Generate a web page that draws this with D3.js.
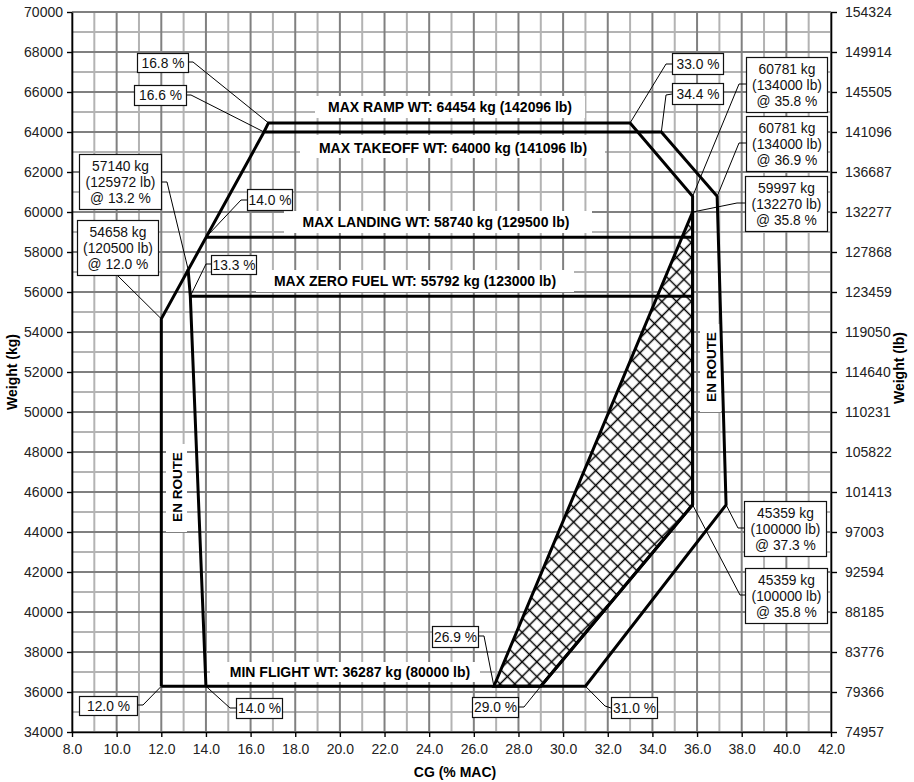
<!DOCTYPE html>
<html>
<head>
<meta charset="utf-8">
<script src="https://cdn.jsdelivr.net/npm/d3@7"></script>
<style>
  html, body { margin: 0; padding: 0; background: #fff; }
  svg { display: block; font-family: "Liberation Sans", Arial, sans-serif; }
</style>
</head>
<body>
<svg id="chart" width="914" height="782"></svg>
<script>
// ---------------- DATA ----------------
const cgTicks = [8, 10, 12, 14, 16, 18, 20, 22, 24, 26, 28, 30, 32, 34, 36, 38, 40, 42];
const kgTicks = [34000, 36000, 38000, 40000, 42000, 44000, 46000, 48000, 50000, 52000,
                 54000, 56000, 58000, 60000, 62000, 64000, 66000, 68000, 70000];
const lbTickLabels = ["74957", "79366", "83776", "88185", "92594", "97003", "101413", "105822",
                      "110231", "114640", "119050", "123459", "127868", "132277", "136687",
                      "141096", "145505", "149914", "154324"];

// envelope lines: [CG %MAC, weight kg]
const outerEnvelope = [[12.0, 36287], [12.0, 54658], [16.6, 64000], [34.4, 64000],
                       [36.9, 60781], [37.3, 45359], [31.0, 36287], [12.0, 36287]];
const rampLine = [[16.6, 64000], [16.8, 64454], [33.0, 64454], [35.8, 60781],
                  [35.8, 45359], [29.0, 36287]];
const landingLine = [[14.0, 58740], [35.8, 58740]];
const zeroFuelLine = [[13.3, 55792], [35.8, 55792]];
const fwdInnerLine = [[13.2, 57140], [13.3, 55792], [14.0, 36287]];
const hatchArea = [[26.9, 36287], [35.8, 59997], [35.8, 45359], [29.0, 36287]];

// weight limit titles
const limitTitles = ["MAX RAMP WT: 64454 kg (142096 lb)",
                     "MAX TAKEOFF WT: 64000 kg (141096 lb)",
                     "MAX LANDING WT: 58740 kg (129500 lb)",
                     "MAX ZERO FUEL WT: 55792 kg (123000 lb)",
                     "MIN FLIGHT WT: 36287 kg (80000 lb)"];
const enRouteText = ["EN ROUTE", "EN ROUTE"];

// callouts: text lines + the point they refer to
const calloutText = [
  ["16.8 %"], ["16.6 %"],
  ["57140 kg", "(125972 lb)", "@ 13.2 %"],
  ["54658 kg", "(120500 lb)", "@ 12.0 %"],
  ["14.0 %"], ["13.3 %"], ["12.0 %"], ["14.0 %"],
  ["26.9 %"], ["29.0 %"], ["31.0 %"], ["33.0 %"], ["34.4 %"],
  ["60781 kg", "(134000 lb)", "@ 35.8 %"],
  ["60781 kg", "(134000 lb)", "@ 36.9 %"],
  ["59997 kg", "(132270 lb)", "@ 35.8 %"],
  ["45359 kg", "(100000 lb)", "@ 37.3 %"],
  ["45359 kg", "(100000 lb)", "@ 35.8 %"]
];
const calloutCG = [16.8, 16.6, 13.2, 12.0, 14.0, 13.3, 12.0, 14.0, 26.9, 29.0, 31.0, 33.0, 34.4, 35.8, 36.9, 35.8, 37.3, 35.8];
const calloutKg = [64454, 64000, 57140, 54658, 58740, 55792, 36287, 36287, 36287, 36287, 36287, 64454, 64000, 60781, 60781, 59997, 45359, 45359];

// ---------------- LAYOUT ----------------
const W = 914, H = 782;
const M = { left: 72, right: 831, top: 12, bottom: 732 };

// box: [left, top, width, height], leader start, elbow
const calloutLayout = [
  { b: [137, 53, 51, 19], s: [188, 62], e: [193, 62] },
  { b: [134, 85, 52, 20], s: [186, 95], e: [191, 95] },
  { b: [79, 154, 82, 55], s: [161, 182], e: [167, 182] },
  { b: [77, 220, 81, 55], s: [117, 275], e: null },
  { b: [247, 189, 45, 21], s: [247, 200], e: [241, 200] },
  { b: [211, 255, 45, 19], s: [211, 264], e: [206, 264] },
  { b: [79, 696, 58, 19], s: [137, 705], e: [143, 705] },
  { b: [236, 698, 46, 20], s: [236, 708], e: [230, 708] },
  { b: [432, 626, 46, 21], s: [478, 636], e: [484, 636] },
  { b: [472, 697, 46, 20], s: [518, 707], e: [524, 707] },
  { b: [611, 697, 46, 21], s: [611, 708], e: [605, 706] },
  { b: [672, 53, 51, 21], s: [672, 64], e: [666, 64] },
  { b: [672, 83, 51, 21], s: [672, 94], e: [666, 95] },
  { b: [746, 57, 81, 55], s: [746, 84], e: [739, 84] },
  { b: [746, 116, 81, 55], s: [746, 143], e: [739, 143] },
  { b: [745, 176, 82, 55], s: [745, 203], e: [737, 203] },
  { b: [744, 501, 82, 55], s: [744, 528], e: [738, 528] },
  { b: [745, 568, 82, 55], s: [745, 595], e: [740, 595] }
];
// title positions: text centre, white rect
const titleLayout = [
  { cx: 450, cy: 107, r: [315, 96, 270, 22] },
  { cx: 453, cy: 148, r: [300, 135, 305, 23] },
  { cx: 436, cy: 222, r: [284, 211, 308, 22] },
  { cx: 415, cy: 281, r: [256, 270, 318, 22] },
  { cx: 350, cy: 672, r: [210, 662, 270, 20] }
];
const enRouteLayout = [
  { cx: 177, cy: 487, r: [166, 444, 21, 88] },
  { cx: 711, cy: 367, r: [700, 324, 21, 88] }
];

// ---------------- DRAW ----------------
const svg = d3.select("#chart");
const x = d3.scaleLinear().domain([8, 42]).range([M.left, M.right]);
const y = d3.scaleLinear().domain([34000, 70000]).range([M.bottom, M.top]);

// grid
const grid = svg.append("g");
const minorCG = d3.range(9, 42, 2), minorKg = d3.range(35000, 70000, 2000);
grid.selectAll(".vmin").data(minorCG).join("line")
  .attr("x1", d => x(d)).attr("x2", d => x(d)).attr("y1", M.top).attr("y2", M.bottom)
  .attr("stroke", "#b3b3b3").attr("stroke-width", 2);
grid.selectAll(".hmin").data(minorKg).join("line")
  .attr("y1", d => y(d)).attr("y2", d => y(d)).attr("x1", M.left).attr("x2", M.right)
  .attr("stroke", "#b3b3b3").attr("stroke-width", 2);
grid.selectAll(".vmaj").data(cgTicks).join("line")
  .attr("x1", d => x(d)).attr("x2", d => x(d)).attr("y1", M.top).attr("y2", M.bottom)
  .attr("stroke", "#808080").attr("stroke-width", 2);
grid.selectAll(".hmaj").data(kgTicks).join("line")
  .attr("y1", d => y(d)).attr("y2", d => y(d)).attr("x1", M.left).attr("x2", M.right)
  .attr("stroke", "#808080").attr("stroke-width", 2);

// axes
const fmt = d3.format(".1f");
const axB = svg.append("g").attr("transform", `translate(0,${M.bottom})`)
  .call(d3.axisBottom(x).tickValues(cgTicks).tickFormat(fmt).tickSize(5).tickSizeOuter(0));
const axL = svg.append("g").attr("transform", `translate(${M.left},0)`)
  .call(d3.axisLeft(y).tickValues(kgTicks).tickFormat(d3.format("d")).tickSize(5).tickSizeOuter(0));
const axR = svg.append("g").attr("transform", `translate(${M.right},0)`)
  .call(d3.axisRight(y).tickValues(kgTicks).tickFormat((d, i) => lbTickLabels[i]).tickSize(6).tickSizeOuter(0));
[axB, axL, axR].forEach(a => {
  a.selectAll(".domain").attr("stroke", "#000").attr("stroke-width", 1.6);
  a.selectAll(".tick line").attr("stroke", "#000").attr("stroke-width", 1.4);
  a.selectAll(".tick text").attr("font-size", "14px").attr("fill", "#222")
    .attr("font-family", "Liberation Sans, Arial, sans-serif");
});
axB.selectAll(".tick text").attr("dy", "0.71em").attr("y", 12);
axL.selectAll(".tick text").attr("x", -9);
axR.selectAll(".tick text").attr("x", 14);

// axis titles
svg.append("text").text("Weight (kg)").attr("transform", "translate(17,372) rotate(-90)")
  .attr("text-anchor", "middle").attr("font-weight", "bold").attr("font-size", "14px");
svg.append("text").text("Weight (lb)").attr("transform", "translate(904,368) rotate(-90)")
  .attr("text-anchor", "middle").attr("font-weight", "bold").attr("font-size", "14px");
svg.append("text").text("CG (% MAC)").attr("x", 455).attr("y", 777)
  .attr("text-anchor", "middle").attr("font-weight", "bold").attr("font-size", "14px");

// hatch pattern
const S = 10.4;
const defs = svg.append("defs");
const pat = defs.append("pattern").attr("id", "hatch").attr("patternUnits", "userSpaceOnUse")
  .attr("width", S).attr("height", S).attr("patternTransform", "rotate(45)");
pat.append("rect").attr("width", S).attr("height", S).attr("fill", "#fff");
pat.append("path").attr("d", `M0,${S / 2}H${S}M${S / 2},0V${S}`).attr("stroke", "#000").attr("stroke-width", 1.5);

const line = d3.line().x(d => x(d[0])).y(d => y(d[1]));

// white title backgrounds
titleLayout.forEach(t => {
  svg.append("rect").attr("x", t.r[0]).attr("y", t.r[1]).attr("width", t.r[2]).attr("height", t.r[3]).attr("fill", "#fff");
});
enRouteLayout.forEach(t => {
  svg.append("rect").attr("x", t.r[0]).attr("y", t.r[1]).attr("width", t.r[2]).attr("height", t.r[3]).attr("fill", "#fff");
});

// hatched area
svg.append("path").datum(hatchArea).attr("d", d => line(d) + "Z")
  .attr("fill", "url(#hatch)").attr("stroke", "#000").attr("stroke-width", 3).attr("stroke-linejoin", "miter");

// envelope lines
const lines = [outerEnvelope, rampLine, landingLine, zeroFuelLine, fwdInnerLine];
svg.selectAll(".env").data(lines).join("path")
  .attr("d", line).attr("fill", "none").attr("stroke", "#000").attr("stroke-width", 3)
  .attr("stroke-linejoin", "miter");

// titles
limitTitles.forEach((t, i) => {
  svg.append("text").text(t).attr("x", titleLayout[i].cx).attr("y", titleLayout[i].cy)
    .attr("dy", "0.35em").attr("text-anchor", "middle").attr("font-weight", "bold").attr("font-size", "14px");
});
enRouteText.forEach((t, i) => {
  const l = enRouteLayout[i];
  svg.append("text").text(t).attr("transform", `translate(${l.cx},${l.cy}) rotate(-90)`)
    .attr("dy", "0.35em").attr("text-anchor", "middle").attr("font-weight", "bold").attr("font-size", "13.5px");
});

// callouts
const cg = svg.append("g");
calloutText.forEach((lines, i) => {
  const L = calloutLayout[i];
  const pts = [L.s];
  if (L.e) pts.push(L.e);
  pts.push([x(calloutCG[i]), y(calloutKg[i])]);
  cg.append("path").attr("d", d3.line()(pts)).attr("fill", "none").attr("stroke", "#000").attr("stroke-width", 1);
});
calloutText.forEach((lines, i) => {
  const L = calloutLayout[i];
  const [bx, by, bw, bh] = L.b;
  cg.append("rect").attr("x", bx + 0.5).attr("y", by + 0.5).attr("width", bw).attr("height", bh)
    .attr("fill", "#fff").attr("stroke", "#111").attr("stroke-width", 1.2);
  const cx = bx + bw / 2, cy = by + bh / 2;
  const n = lines.length;
  lines.forEach((s, j) => {
    cg.append("text").text(s).attr("x", cx + 0.5).attr("y", cy + (j - (n - 1) / 2) * 16 + 0.5)
      .attr("dy", "0.36em").attr("text-anchor", "middle").attr("font-size", "13.8px").attr("fill", "#111");
  });
});
</script>
</body>
</html>
